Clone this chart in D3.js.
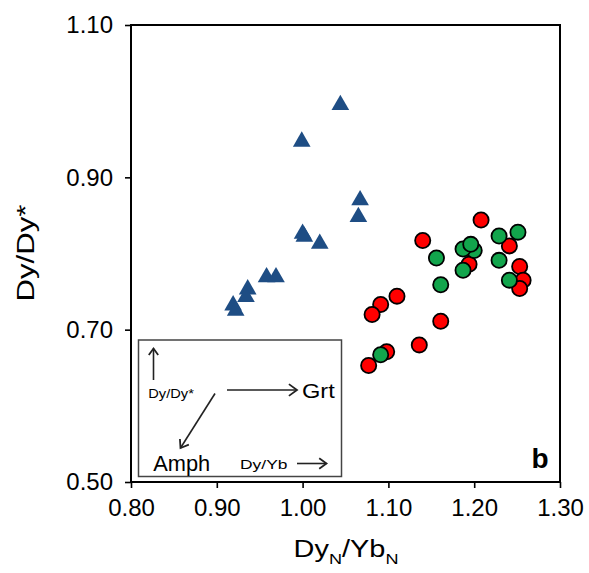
<!DOCTYPE html>
<html>
<head>
<meta charset="utf-8">
<script src="https://cdn.jsdelivr.net/npm/d3@7"></script>
<style>
  body { margin: 0; background: #fff; }
  text { font-family: "Liberation Sans", Arial, sans-serif; fill: #000; }
</style>
</head>
<body>
<div id="chart"></div>
<script>
// data
var triX = [1.044, 0.999, 1.067, 1.065, 1.000, 1.002, 1.020, 0.958, 0.969, 0.936, 0.934, 0.919, 0.922];
var triY = [0.995, 0.947, 0.870, 0.848, 0.826, 0.822, 0.813, 0.769, 0.769, 0.753, 0.743, 0.732, 0.725];

var redX = [1.208, 1.140, 1.241, 1.194, 1.253, 1.257, 1.253, 1.110, 1.091, 1.081, 1.161, 1.136, 1.098, 1.077];
var redY = [0.844, 0.817, 0.810, 0.786, 0.783, 0.765, 0.754, 0.744, 0.733, 0.720, 0.711, 0.680, 0.671, 0.653];

var greenX = [1.251, 1.229, 1.200, 1.187, 1.196, 1.156, 1.229, 1.187, 1.241, 1.161, 1.091];
var greenY = [0.828, 0.823, 0.804, 0.806, 0.812, 0.794, 0.791, 0.778, 0.765, 0.759, 0.667];

var xTicks = [0.80, 0.90, 1.00, 1.10, 1.20, 1.30];
var yTicks = [0.50, 0.70, 0.90, 1.10];

var W = 589, H = 573,
    margin = { top: 25, right: 29, bottom: 91, left: 131 },
    width = W - margin.left - margin.right,
    height = H - margin.top - margin.bottom;

var svg = d3.select("#chart").append("svg")
    .attr("width", W)
    .attr("height", H);

var g = svg.append("g")
    .attr("transform", "translate(" + margin.left + "," + margin.top + ")");

var x = d3.scaleLinear().domain([0.80, 1.30]).range([0, width]);
var y = d3.scaleLinear().domain([0.50, 1.10]).range([height, 0]);

// stretch a text horizontally to a target width
function fitWidth(sel, target) {
    var w = sel.node().getBBox().width;
    var t = sel.attr("transform") || "";
    sel.attr("transform", t + " scale(" + (target / w) + ",1)");
}

// axes
var xAxis = g.append("g")
    .attr("transform", "translate(0," + height + ")")
    .call(d3.axisBottom(x).tickValues(xTicks).tickFormat(d3.format(".2f")).tickSize(6).tickPadding(11).tickSizeOuter(0));
var yAxis = g.append("g")
    .call(d3.axisLeft(y).tickValues(yTicks).tickFormat(d3.format(".2f")).tickSize(6).tickPadding(12).tickSizeOuter(0));

[xAxis, yAxis].forEach(function(a) {
    a.select(".domain").remove();
    a.selectAll(".tick line").attr("stroke", "#000").attr("stroke-width", 1.6);
    a.selectAll(".tick text").attr("font-size", 24).attr("font-family", "Liberation Sans, Arial, sans-serif");
});

// frame
g.append("rect")
    .attr("x", 0).attr("y", 0)
    .attr("width", width).attr("height", height)
    .attr("fill", "none")
    .attr("stroke", "#000")
    .attr("stroke-width", 2);

// inset box with arrows
var inset = svg.append("g");
inset.append("rect")
    .attr("x", 138.5).attr("y", 340)
    .attr("width", 203).attr("height", 136.5)
    .attr("fill", "none")
    .attr("stroke", "#444")
    .attr("stroke-width", 1.5);

function arrow(x1, y1, x2, y2, head) {
    var ang = Math.atan2(y2 - y1, x2 - x1), a = Math.PI / 5;
    inset.append("line")
        .attr("x1", x1).attr("y1", y1).attr("x2", x2).attr("y2", y2)
        .attr("stroke", "#222").attr("stroke-width", 1.6);
    inset.append("path")
        .attr("d", "M" + (x2 - head * Math.cos(ang - a)) + "," + (y2 - head * Math.sin(ang - a)) +
            "L" + x2 + "," + y2 +
            "L" + (x2 - head * Math.cos(ang + a)) + "," + (y2 - head * Math.sin(ang + a)))
        .attr("fill", "none").attr("stroke", "#222").attr("stroke-width", 1.8);
}
arrow(153.5, 380, 153.5, 348.5, 8);
arrow(227, 390, 297, 390, 10);
arrow(215, 393.5, 180.5, 448, 9);
arrow(297, 463.5, 326.5, 463.5, 9);

var t;
t = inset.append("text").attr("font-size", 12).attr("transform", "translate(148.3,397.5)").text("Dy/Dy*");
fitWidth(t, 46);
t = inset.append("text").attr("font-size", 21).attr("transform", "translate(302,398)").text("Grt");
fitWidth(t, 33);
t = inset.append("text").attr("font-size", 22).attr("transform", "translate(153.3,470.5)").text("Amph");
fitWidth(t, 57);
t = inset.append("text").attr("font-size", 12).attr("transform", "translate(240,469)").text("Dy/Yb");
fitWidth(t, 48);

svg.append("text")
    .attr("x", 531.5).attr("y", 468.3)
    .attr("font-size", 28).attr("font-weight", "bold")
    .text("b");

// points
g.append("g").selectAll("path")
    .data(triX.map(function(d, i) { return [d, triY[i]]; }))
    .enter().append("path")
        .attr("d", d3.symbol().type(d3.symbolTriangle).size(135))
        .attr("transform", function(d) { return "translate(" + x(d[0]) + "," + y(d[1]) + ")"; })
        .attr("fill", "#1e4d84");

g.append("g").selectAll("circle")
    .data(redX.map(function(d, i) { return [d, redY[i]]; }))
    .enter().append("circle")
        .attr("cx", function(d) { return x(d[0]); })
        .attr("cy", function(d) { return y(d[1]); })
        .attr("r", 7.6)
        .attr("fill", "#ff0000")
        .attr("stroke", "#000")
        .attr("stroke-width", 1.8);

g.append("g").selectAll("circle")
    .data(greenX.map(function(d, i) { return [d, greenY[i]]; }))
    .enter().append("circle")
        .attr("cx", function(d) { return x(d[0]); })
        .attr("cy", function(d) { return y(d[1]); })
        .attr("r", 7.6)
        .attr("fill", "#12a54c")
        .attr("stroke", "#000")
        .attr("stroke-width", 1.8);

// axis titles
var xt = svg.append("text")
    .attr("font-size", 24)
    .attr("text-anchor", "middle")
    .attr("transform", "translate(346,557.3)");
xt.append("tspan").text("Dy");
xt.append("tspan").attr("font-size", 15).attr("dy", 7).text("N");
xt.append("tspan").attr("dy", -7).text("/Yb");
xt.append("tspan").attr("font-size", 15).attr("dy", 7).text("N");
fitWidth(xt, 105);

var yt = svg.append("text")
    .attr("font-size", 24)
    .attr("text-anchor", "middle")
    .attr("transform", "translate(34,253) rotate(-90)")
    .text("Dy/Dy*");
fitWidth(yt, 97);
</script>
</body>
</html>
